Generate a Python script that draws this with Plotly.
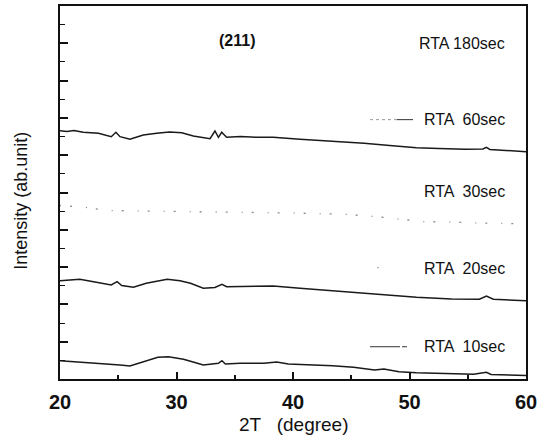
import plotly.graph_objects as go

# ---- data (2T in degree, intensity in arbitrary units) ----
x_60 = [20.0, 20.6, 21.2, 22.0, 23.3, 24.4, 24.8, 25.15, 26.0, 27.15, 28.3, 29.4, 30.45,
        31.44, 32.88, 33.3, 33.6, 33.88, 34.3, 35.5, 36.9, 38.3, 40.6, 41.6, 44.0, 46.1,
        48.3, 50.6, 52.5, 54.8, 56.3, 56.6, 56.9, 58.5, 60.0]
y_60 = [6.657, 6.635, 6.662, 6.614, 6.587, 6.496, 6.614, 6.496, 6.426, 6.542, 6.587, 6.622,
        6.603, 6.515, 6.442, 6.649, 6.480, 6.614, 6.480, 6.501, 6.480, 6.480, 6.426, 6.408,
        6.367, 6.319, 6.260, 6.201, 6.180, 6.158, 6.166, 6.212, 6.153, 6.126, 6.094]

x_30 = [20.0, 22.0, 24.0, 28.0, 32.0, 36.0, 40.0, 44.0, 47.0, 51.0, 57.0, 60.0]
y_30 = [4.651, 4.611, 4.517, 4.504, 4.477, 4.464, 4.450, 4.424, 4.357, 4.223, 4.169, 4.155]

x_20 = [20.0, 21.7, 23.0, 24.4, 24.9, 25.3, 26.3, 27.4, 29.2, 30.3, 31.2, 32.3, 33.3, 33.9,
        34.3, 36.0, 38.3, 40.6, 42.5, 44.6, 47.6, 50.6, 53.6, 56.0, 56.6, 57.2, 60.0]
y_20 = [2.635, 2.673, 2.601, 2.520, 2.609, 2.507, 2.458, 2.566, 2.673, 2.635, 2.566, 2.432,
        2.453, 2.539, 2.475, 2.480, 2.493, 2.432, 2.386, 2.340, 2.252, 2.190, 2.145, 2.137,
        2.225, 2.137, 2.099]

x_10 = [20.0, 22.2, 23.7, 25.15, 26.0, 27.0, 28.4, 29.3, 30.6, 31.5, 32.3, 33.6, 33.9, 34.2,
        35.45, 37.5, 38.6, 39.6, 41.6, 43.4, 45.2, 47.0, 47.8, 49.1, 50.6, 53.6, 55.5, 56.6,
        57.0, 60.0]
y_10 = [0.491, 0.448, 0.421, 0.375, 0.349, 0.442, 0.582, 0.598, 0.528, 0.448, 0.375, 0.421,
        0.491, 0.402, 0.421, 0.421, 0.456, 0.402, 0.383, 0.357, 0.314, 0.241, 0.268, 0.196,
        0.169, 0.134, 0.126, 0.180, 0.121, 0.094]

labels = ["RTA 180sec", "RTA  60sec", "RTA  30sec", "RTA  20sec", "RTA  10sec"]
label_y = [0.899, 0.695, 0.5015, 0.2964, 0.0865]   # paper positions of the labels
x_ticks = [20, 30, 40, 50, 60]

FONT = "Liberation Sans, Arial, sans-serif"
fig = go.Figure()
line_col = "#1a1a1a"
fig.add_trace(go.Scatter(x=x_60, y=y_60, mode="lines", line=dict(color=line_col, width=1.5)))
fig.add_trace(go.Scatter(x=x_30, y=y_30, mode="lines",
                         line=dict(color="#8a8a8a", width=1.3, dash="1px,9px,2px,14px")))
fig.add_trace(go.Scatter(x=x_20, y=y_20, mode="lines", line=dict(color=line_col, width=1.5)))
fig.add_trace(go.Scatter(x=x_10, y=y_10, mode="lines", line=dict(color=line_col, width=1.5)))

ann = []
for t, yy in zip(labels, label_y):
    ann.append(dict(text=t, x=0.9592, y=yy, xref="paper", yref="paper", xanchor="right",
                    yanchor="middle", showarrow=False, font=dict(family=FONT, size=16, color="#111")))
ann.append(dict(text="<b>(211)</b>", x=0.3788, y=0.9076, xref="paper", yref="paper",
                xanchor="center", yanchor="middle", showarrow=False,
                font=dict(family=FONT, size=16, color="#111")))
ann.append(dict(text="2T   (degree)", x=0.5, y=-0.123, xref="paper", yref="paper",
                xanchor="center", yanchor="middle", showarrow=False,
                font=dict(family=FONT, size=19, color="#111")))
ann.append(dict(text="Intensity (ab.unit)", x=-0.0837, y=0.478, xref="paper", yref="paper",
                xanchor="center", yanchor="middle", textangle=-90, showarrow=False,
                font=dict(family=FONT, size=18, color="#111")))

def px(xp):
    return (xp - 60) / 466.0

def py(yp):
    return (379 - yp) / 373.5

shapes = [
    dict(type="line", xref="paper", yref="paper", x0=px(370), x1=px(397), y0=py(119.3), y1=py(119.3),
         line=dict(color="#999", width=1, dash="dot")),
    dict(type="line", xref="paper", yref="paper", x0=px(397), x1=px(413), y0=py(119.3), y1=py(119.3),
         line=dict(color="#333", width=1)),
    dict(type="line", xref="paper", yref="paper", x0=px(370), x1=px(400), y0=py(346.7), y1=py(346.7),
         line=dict(color="#333", width=1)),
    dict(type="line", xref="paper", yref="paper", x0=px(402), x1=px(407), y0=py(346.7), y1=py(346.7),
         line=dict(color="#333", width=1)),
    dict(type="line", xref="paper", yref="paper", x0=px(377), x1=px(379), y0=py(267.5), y1=py(267.5),
         line=dict(color="#aaa", width=1)),
]

fig.update_layout(
    width=545, height=437,
    margin=dict(l=60, r=19, t=5.5, b=58, autoexpand=False),
    paper_bgcolor="white", plot_bgcolor="white",
    showlegend=False,
    annotations=ann, shapes=shapes,
    xaxis=dict(range=[20, 60], tickvals=x_ticks, ticktext=[f"<b>{v}</b>" for v in x_ticks],
               ticks="inside", ticklen=7, tickwidth=1.5, tickcolor="#111", automargin=False,
               minor=dict(dtick=5, tick0=20, ticks="inside", ticklen=4, tickwidth=1.5, tickcolor="#111"),
               showline=True, linecolor="#111", linewidth=2, mirror=True,
               showgrid=False, zeroline=False, ticklabelstandoff=4,
               tickfont=dict(family=FONT, size=20, color="#111")),
    yaxis=dict(range=[0, 10], dtick=1, tick0=0, ticks="inside", ticklen=7.5, tickwidth=1.5,
               tickcolor="#111", showticklabels=False, automargin=False,
               minor=dict(dtick=0.5, ticks="inside", ticklen=5, tickwidth=1.2, tickcolor="#111"),
               showline=True, linecolor="#111", linewidth=2, mirror=True,
               showgrid=False, zeroline=False),
)

fig.write_html("out.html", config={"displayModeBar": False},
               post_script="document.body.style.margin='0px';document.body.style.overflow='hidden';")
